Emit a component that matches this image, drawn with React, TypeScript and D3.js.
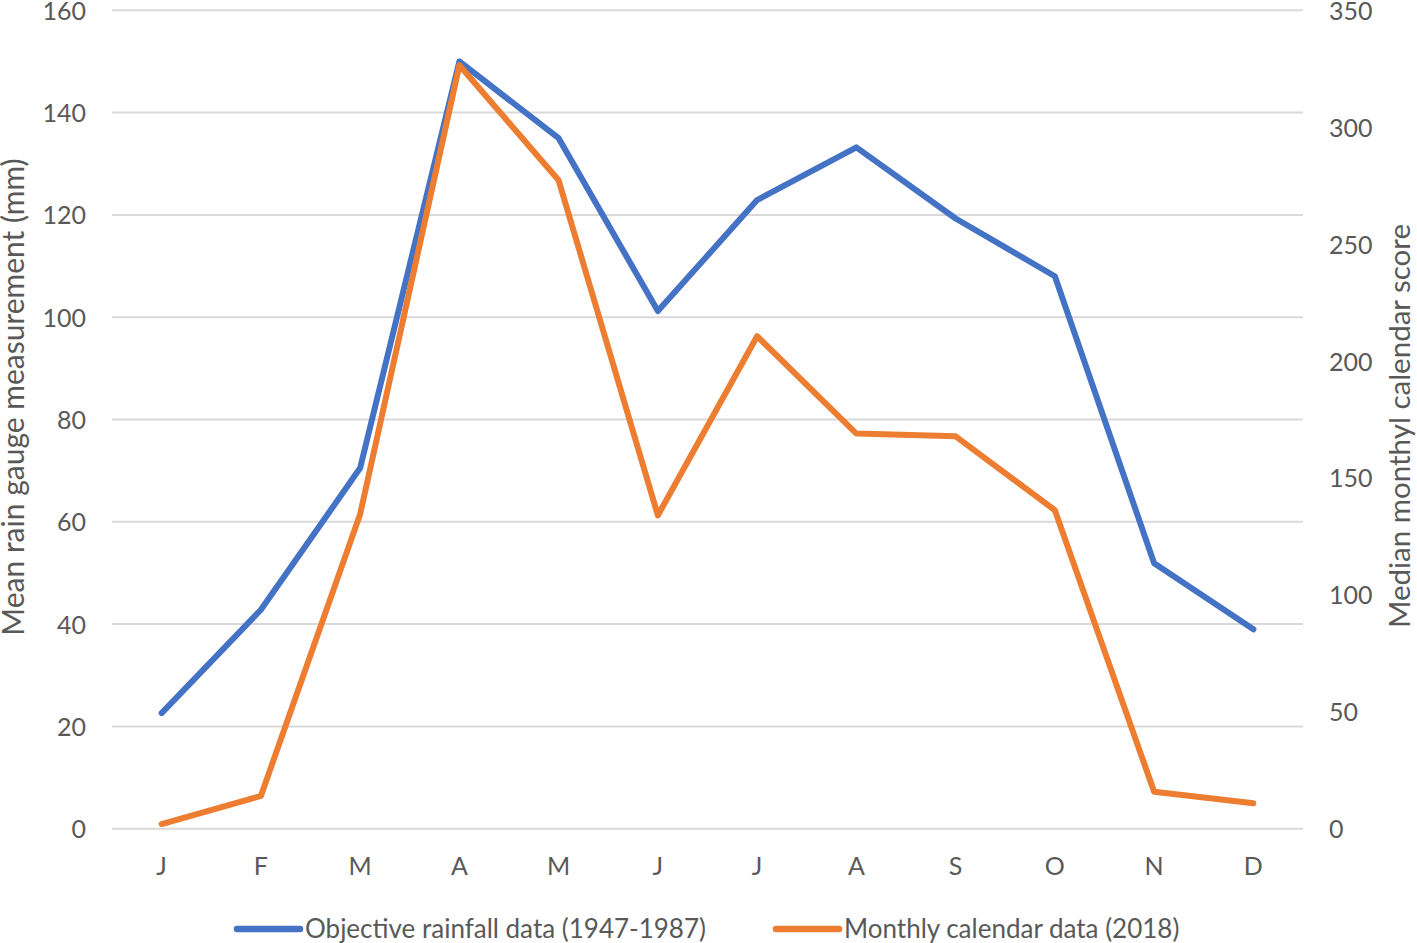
import React, { useEffect, useRef } from "react";
import * as d3 from "d3";

const months = ["J", "F", "M", "A", "M", "J", "J", "A", "S", "O", "N", "D"];
const rainfall = [22.6, 42.8, 70.5, 150, 135, 101.2, 122.9, 133.2, 119.3, 108, 51.9, 39];
const calendar = [2, 14, 134.5, 326.5, 277.3, 134, 210.6, 169, 167.8, 136.2, 15.8, 10.9];
const leftTicks = [0, 20, 40, 60, 80, 100, 120, 140, 160];
const rightTicks = [0, 50, 100, 150, 200, 250, 300, 350];

const BLUE = "#4472C4";
const ORANGE = "#ED7D31";
const TEXT = "#595959";
const FONT = "Lato, 'Open Sans', sans-serif";

export default function App() {
  const svgRef = useRef<SVGSVGElement>(null);

  useEffect(() => {
    document.body.style.margin = "0";
    const width = 1417;
    const height = 943;
    const margin = { top: 10, right: 114, bottom: 114, left: 112 };

    const svg = d3.select(svgRef.current);
    svg.selectAll("*").remove();
    svg.attr("width", width).attr("height", height).style("display", "block");

    const x = d3
      .scaleBand<number>()
      .domain(d3.range(months.length))
      .range([margin.left, width - margin.right]);
    const cx = (i: number) => (x(i) as number) + x.bandwidth() / 2;

    const yLeft = d3.scaleLinear().domain([0, 160]).range([height - margin.bottom - 0.3, margin.top + 0.3]);
    const yRight = d3.scaleLinear().domain([0, 350]).range(yLeft.range());

    // gridlines
    svg
      .append("g")
      .selectAll("line")
      .data(leftTicks)
      .join("line")
      .attr("x1", margin.left)
      .attr("x2", width - margin.right)
      .attr("y1", (d) => yLeft(d))
      .attr("y2", (d) => yLeft(d))
      .attr("stroke", "#d9d9d9")
      .attr("stroke-width", 2);

    // left tick labels
    svg
      .append("g")
      .selectAll("text")
      .data(leftTicks)
      .join("text")
      .attr("x", 86)
      .attr("y", (d) => yLeft(d) + 0.5)
      .attr("dy", "0.36em")
      .attr("text-anchor", "end")
      .attr("fill", TEXT)
      .style("font-family", FONT)
      .style("font-size", "25px")
      .text((d) => d);

    // right tick labels
    svg
      .append("g")
      .selectAll("text")
      .data(rightTicks)
      .join("text")
      .attr("x", 1329)
      .attr("y", (d) => yRight(d) + 0.5)
      .attr("dy", "0.36em")
      .attr("text-anchor", "start")
      .attr("fill", TEXT)
      .style("font-family", FONT)
      .style("font-size", "25px")
      .text((d) => d);

    // x labels
    svg
      .append("g")
      .selectAll("text")
      .data(months)
      .join("text")
      .attr("x", (_, i) => cx(i))
      .attr("y", 866)
      .attr("dy", "0.36em")
      .attr("text-anchor", "middle")
      .attr("fill", TEXT)
      .style("font-family", FONT)
      .style("font-size", "25px")
      .text((d) => d);

    // lines
    const leftLine = d3
      .line<number>()
      .x((_, i) => cx(i))
      .y((d) => yLeft(d));
    const rightLine = d3
      .line<number>()
      .x((_, i) => cx(i))
      .y((d) => yRight(d));

    svg
      .append("path")
      .datum(rainfall)
      .attr("fill", "none")
      .attr("stroke", BLUE)
      .attr("stroke-width", 6)
      .attr("stroke-linecap", "round")
      .attr("stroke-linejoin", "round")
      .attr("d", leftLine);

    svg
      .append("path")
      .datum(calendar)
      .attr("fill", "none")
      .attr("stroke", ORANGE)
      .attr("stroke-width", 6)
      .attr("stroke-linecap", "round")
      .attr("stroke-linejoin", "round")
      .attr("d", rightLine);

    // axis titles
    svg
      .append("text")
      .attr("transform", "translate(24,397) rotate(-90)")
      .attr("text-anchor", "middle")
      .attr("fill", TEXT)
      .style("font-family", FONT)
      .style("font-size", "30px")
      .text("Mean rain gauge measurement (mm)");

    svg
      .append("text")
      .attr("transform", "translate(1410,426) rotate(-90)")
      .attr("text-anchor", "middle")
      .attr("fill", TEXT)
      .style("font-family", FONT)
      .style("font-size", "29.5px")
      .text("Median monthyl calendar score");

    // legend
    const legendItems = [
      { label: "Objective rainfall data (1947-1987)", color: BLUE, x: 237 },
      { label: "Monthly calendar data (2018)", color: ORANGE, x: 776 },
    ];
    const legend = svg.append("g").attr("transform", "translate(0,929)");
    legendItems.forEach((item) => {
      legend
        .append("line")
        .attr("x1", item.x)
        .attr("x2", item.x + 63)
        .attr("y1", 0)
        .attr("y2", 0)
        .attr("stroke", item.color)
        .attr("stroke-width", 6.5)
        .attr("stroke-linecap", "round");
      legend
        .append("text")
        .attr("x", item.x + 68)
        .attr("y", 0)
        .attr("dy", "0.36em")
        .attr("fill", TEXT)
        .style("font-family", FONT)
        .style("font-size", "26px")
        .text(item.label);
    });
  }, []);

  return <svg ref={svgRef}></svg>;
}
